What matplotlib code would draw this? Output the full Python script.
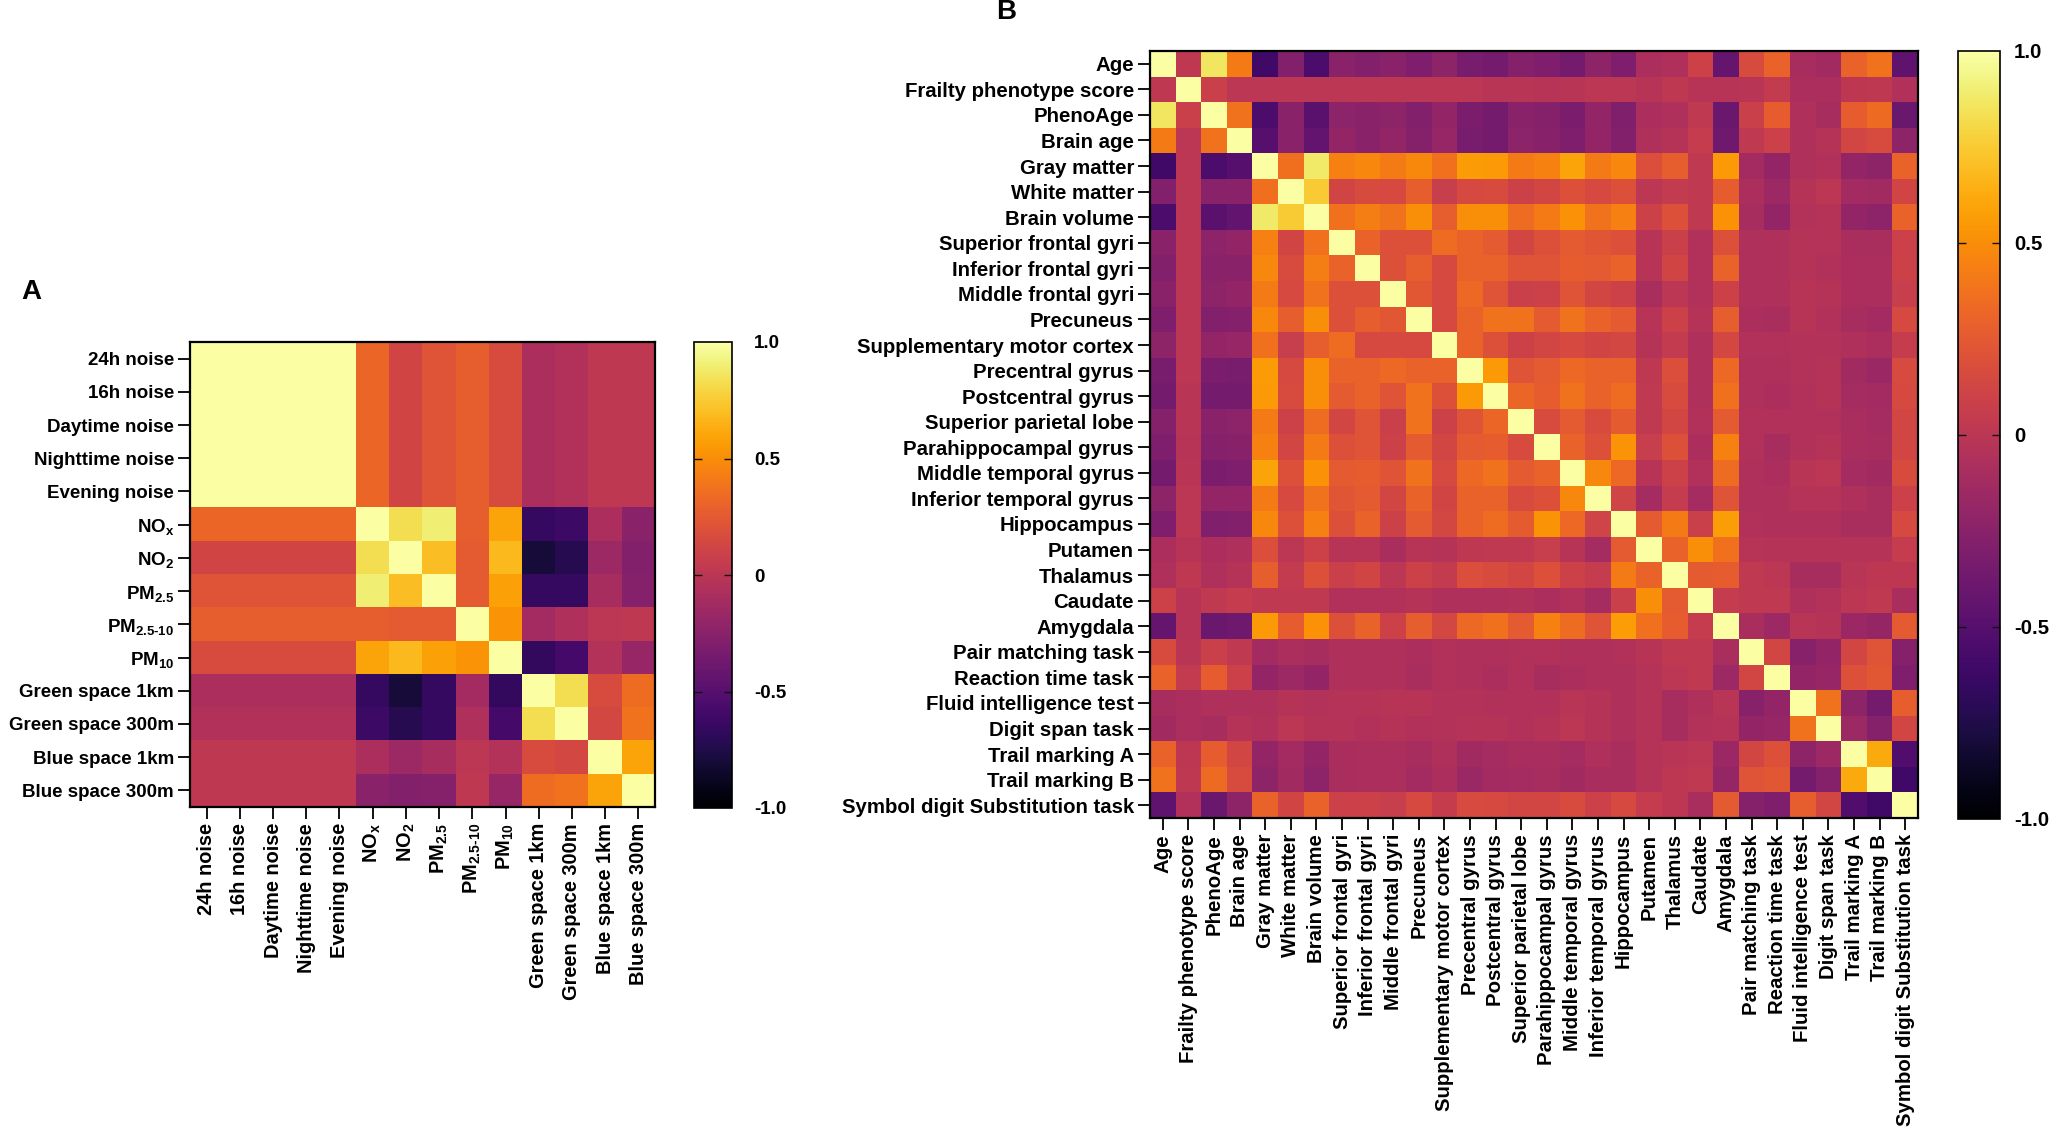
#!/usr/bin/env python3

import numpy as np
from matplotlib import pyplot as plt

plt.rcParams['font.family'] = ['Liberation Sans', 'DejaVu Sans']
plt.rcParams['font.weight'] = 'bold'
plt.rcParams['mathtext.fontset'] = 'custom'
plt.rcParams['mathtext.bf'] = 'Liberation Sans:bold'
plt.rcParams['mathtext.rm'] = 'Liberation Sans:bold'
plt.rcParams['mathtext.default'] = 'bf'

W, H = 2050, 1128

###panel A
labels_a = ['24h noise', '16h noise', 'Daytime noise', 'Nighttime noise', 'Evening noise',
            'NO$_x$', 'NO$_2$', 'PM$_{2.5}$', 'PM$_{2.5\\text{-}10}$', 'PM$_{10}$',
            'Green space 1km', 'Green space 300m', 'Blue space 1km', 'Blue space 300m']
# upper triangle, each row starts right after the diagonal
upper_a = [
    [1.00, 1.00, 1.00, 1.00, 0.32, 0.12, 0.22, 0.28, 0.17, -0.08, -0.05, 0.02, 0.02],
    [1.00, 1.00, 1.00, 0.32, 0.12, 0.22, 0.28, 0.17, -0.08, -0.05, 0.02, 0.02],
    [1.00, 1.00, 0.32, 0.12, 0.22, 0.28, 0.17, -0.08, -0.05, 0.02, 0.02],
    [1.00, 0.32, 0.12, 0.22, 0.28, 0.17, -0.08, -0.05, 0.02, 0.02],
    [0.32, 0.12, 0.22, 0.28, 0.17, -0.08, -0.05, 0.02, 0.02],
    [0.83, 0.90, 0.28, 0.60, -0.65, -0.62, -0.08, -0.25],
    [0.70, 0.25, 0.68, -0.80, -0.72, -0.15, -0.28],
    [0.25, 0.58, -0.65, -0.65, -0.10, -0.27],
    [0.53, -0.12, -0.06, 0.00, 0.02],
    [-0.67, -0.58, -0.04, -0.18],
    [0.83, 0.17, 0.35],
    [0.14, 0.38],
    [0.60],
]

###panel B
labels_b = ['Age', 'Frailty phenotype score', 'PhenoAge', 'Brain age', 'Gray matter',
            'White matter', 'Brain volume', 'Superior frontal gyri', 'Inferior frontal gyri',
            'Middle frontal gyri', 'Precuneus', 'Supplementary motor cortex', 'Precentral gyrus',
            'Postcentral gyrus', 'Superior parietal lobe', 'Parahippocampal gyrus',
            'Middle temporal gyrus', 'Inferior temporal gyrus', 'Hippocampus', 'Putamen',
            'Thalamus', 'Caudate', 'Amygdala', 'Pair matching task', 'Reaction time task',
            'Fluid intelligence test', 'Digit span task', 'Trail marking A', 'Trail marking B',
            'Symbol digit Substitution task']
upper_b = [
    [0.02, 0.86, 0.42, -0.60, -0.28, -0.55, -0.25, -0.28, -0.25, -0.30, -0.22, -0.33, -0.35, -0.27, -0.30, -0.35, -0.22, -0.30, -0.08, -0.07, 0.10, -0.42, 0.17, 0.30, -0.10, -0.13, 0.30, 0.38, -0.45],
    [0.08, 0.00, 0.00, 0.00, 0.00, 0.00, 0.00, 0.00, 0.00, 0.00, 0.00, -0.01, -0.01, -0.02, -0.01, 0.00, 0.00, -0.02, 0.02, -0.02, -0.02, -0.01, 0.04, -0.08, -0.08, 0.01, 0.02, -0.05],
    [0.38, -0.55, -0.25, -0.48, -0.23, -0.25, -0.22, -0.28, -0.20, -0.32, -0.35, -0.25, -0.27, -0.32, -0.20, -0.29, -0.08, -0.07, 0.03, -0.40, 0.08, 0.27, -0.07, -0.10, 0.27, 0.34, -0.40],
    [-0.50, -0.25, -0.43, -0.20, -0.25, -0.20, -0.27, -0.18, -0.33, -0.35, -0.23, -0.26, -0.30, -0.20, -0.28, -0.07, -0.03, 0.05, -0.38, 0.03, 0.09, -0.07, -0.03, 0.13, 0.17, -0.22],
    [0.36, 0.88, 0.44, 0.47, 0.42, 0.48, 0.37, 0.56, 0.55, 0.42, 0.45, 0.60, 0.42, 0.47, 0.18, 0.28, 0.03, 0.55, -0.12, -0.20, -0.07, -0.05, -0.20, -0.22, 0.30],
    [0.75, 0.12, 0.17, 0.15, 0.28, 0.07, 0.15, 0.17, 0.10, 0.13, 0.20, 0.15, 0.20, 0.00, 0.04, 0.03, 0.27, -0.08, -0.15, -0.03, 0.00, -0.12, -0.13, 0.12],
    [0.37, 0.43, 0.38, 0.50, 0.28, 0.50, 0.50, 0.35, 0.42, 0.52, 0.38, 0.44, 0.10, 0.20, 0.03, 0.52, -0.10, -0.20, -0.04, -0.03, -0.20, -0.23, 0.30],
    [0.30, 0.20, 0.20, 0.35, 0.30, 0.25, 0.13, 0.20, 0.25, 0.23, 0.20, -0.02, 0.08, -0.05, 0.20, -0.07, -0.07, -0.03, -0.03, -0.09, -0.09, 0.09],
    [0.20, 0.28, 0.15, 0.30, 0.30, 0.22, 0.22, 0.27, 0.25, 0.30, -0.02, 0.12, -0.05, 0.30, -0.06, -0.06, -0.03, -0.05, -0.08, -0.08, 0.10],
    [0.24, 0.15, 0.33, 0.22, 0.08, 0.10, 0.22, 0.13, 0.10, -0.09, 0.00, -0.05, 0.10, -0.06, -0.07, -0.02, -0.03, -0.08, -0.08, 0.07],
    [0.15, 0.30, 0.38, 0.38, 0.25, 0.38, 0.30, 0.25, -0.02, 0.10, -0.03, 0.28, -0.08, -0.09, -0.02, -0.05, -0.10, -0.12, 0.15],
    [0.30, 0.20, 0.10, 0.13, 0.15, 0.12, 0.14, -0.03, 0.04, -0.07, 0.14, -0.05, -0.05, -0.04, -0.04, -0.06, -0.08, 0.06],
    [0.55, 0.22, 0.25, 0.33, 0.30, 0.30, 0.02, 0.18, -0.06, 0.33, -0.06, -0.07, -0.04, -0.03, -0.13, -0.17, 0.16],
    [0.32, 0.27, 0.38, 0.30, 0.35, 0.03, 0.17, -0.06, 0.37, -0.06, -0.08, -0.05, -0.03, -0.11, -0.12, 0.15],
    [0.17, 0.25, 0.17, 0.26, 0.03, 0.13, -0.05, 0.25, -0.05, -0.05, -0.05, -0.05, -0.09, -0.11, 0.13],
    [0.30, 0.20, 0.53, 0.07, 0.20, -0.08, 0.45, -0.05, -0.10, -0.05, -0.03, -0.09, -0.10, 0.13],
    [0.47, 0.33, -0.02, 0.10, -0.05, 0.35, -0.06, -0.08, -0.01, 0.00, -0.11, -0.13, 0.17],
    [0.11, -0.11, 0.05, -0.11, 0.22, -0.06, -0.06, -0.03, -0.03, -0.07, -0.09, 0.09],
    [0.25, 0.42, 0.08, 0.57, -0.05, -0.07, -0.07, -0.07, -0.09, -0.09, 0.15],
    [0.30, 0.50, 0.37, -0.02, -0.03, -0.03, -0.03, -0.03, -0.03, 0.05],
    [0.25, 0.27, 0.03, 0.00, -0.10, -0.10, -0.01, 0.01, 0.01],
    [0.05, 0.03, 0.03, -0.06, -0.04, 0.00, 0.03, -0.09],
    [-0.09, -0.15, -0.01, -0.03, -0.16, -0.19, 0.25],
    [0.13, -0.26, -0.20, 0.13, 0.22, -0.27],
    [-0.20, -0.18, 0.20, 0.24, -0.30],
    [0.38, -0.22, -0.35, 0.28],
    [-0.15, -0.27, 0.13],
    [0.62, -0.53],
    [-0.60],
]
cbar_ticks = [-1.0, -0.5, 0.0, 0.5, 1.0]
cbar_labels = ['-1.0', '-0.5', '0', '0.5', '1.0']


def to_matrix(upper):
    n = len(upper) + 1
    m = np.eye(n)
    for i, row in enumerate(upper):
        assert len(row) == n - i - 1
        m[i, i+1:] = row
        m[i+1:, i] = row
    return m


def px_axes(fig, left, top, right, bottom):
    return fig.add_axes([left/W, 1-bottom/H, (right-left)/W, (bottom-top)/H])


def heatmap(fig, matrix, labels, box, cbox, x_size, y_size, cb_pad):
    ax = px_axes(fig, *box)
    n = len(labels)
    im = ax.imshow(matrix, cmap='inferno', vmin=-1, vmax=1, aspect='auto', interpolation='nearest')
    ax.set_xticks(range(n))
    ax.set_yticks(range(n))
    ax.set_xticklabels(labels, rotation=90, fontsize=x_size, fontweight='bold')
    ax.set_yticklabels(labels, fontsize=y_size, fontweight='bold')
    ax.tick_params(length=8.5, width=1.4, pad=3, color='#111111')
    for s in ax.spines.values():
        s.set_linewidth(1.6)
    cax = px_axes(fig, *cbox)
    cb = fig.colorbar(im, cax=cax, ticks=cbar_ticks)
    cb.ax.set_yticklabels(cbar_labels, fontsize=y_size, fontweight='bold')
    cb.ax.tick_params(axis='y', direction='in', left=True, right=True, length=5.5, width=1, pad=cb_pad, color='#111111')
    cb.outline.set_linewidth(1.2)
    for t in [cb.ax.yaxis.get_major_ticks()[0], cb.ax.yaxis.get_major_ticks()[-1]]:
        t.tick1line.set_visible(False)
        t.tick2line.set_visible(False)
    return ax


if __name__ == '__main__':
    fig = plt.figure(figsize=(W/100, H/100), dpi=100)
    heatmap(fig, to_matrix(upper_a), labels_a, (190, 342, 655, 807), (694, 342, 732, 808), 14.4, 13.5, 16)
    heatmap(fig, to_matrix(upper_b), labels_b, (1150, 51, 1918, 818), (1958, 51, 2000, 819), 14.7, 14.7, 10)
    fig.text(21/W, 1-292/H, 'A', fontsize=20, fontweight='bold', va='center', ha='left')
    fig.text(996/W, 1-12/H, 'B', fontsize=20, fontweight='bold', va='center', ha='left')
    fig.savefig('out.png', dpi=100)
